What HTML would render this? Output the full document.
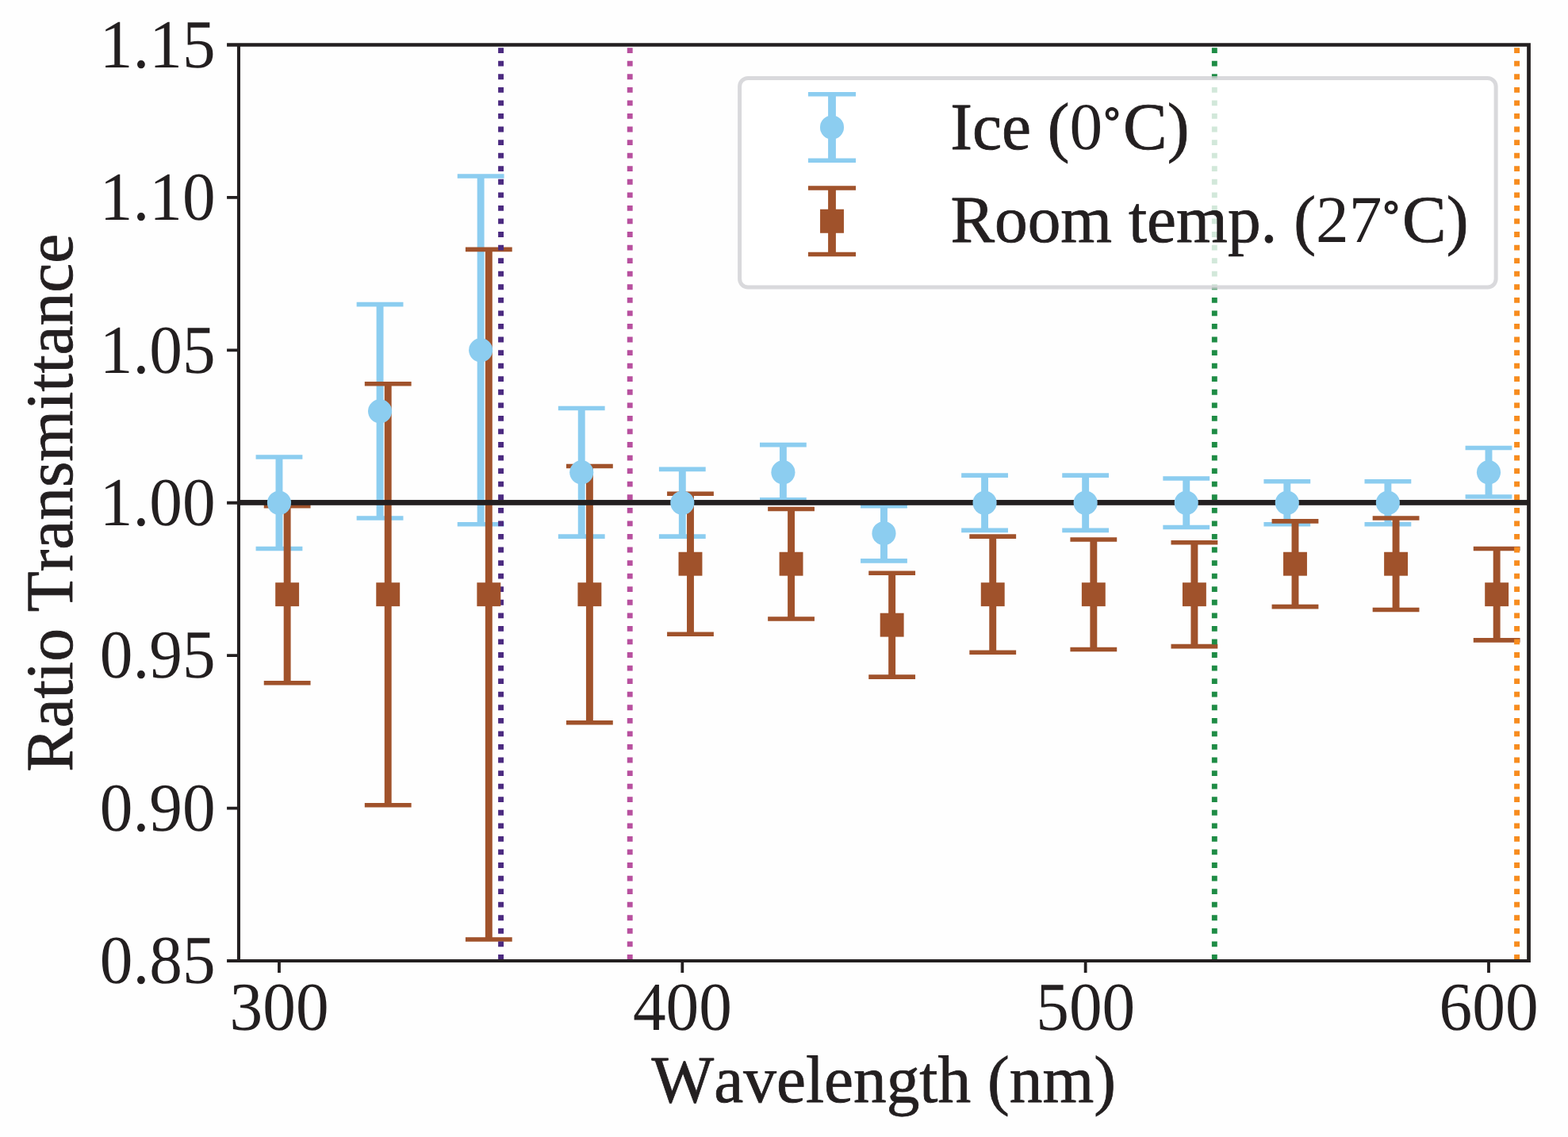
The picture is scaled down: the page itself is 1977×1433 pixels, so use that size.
<!DOCTYPE html>
<html lang="en">
<head>
<meta charset="utf-8">
<title>Ratio Transmittance vs Wavelength</title>
<style>
html,body{margin:0;padding:0;background:#fefefe;}
body{width:1977px;height:1433px;overflow:hidden;}
svg{display:block;}
</style>
</head>
<body>
<svg role="img" aria-label="Ratio Transmittance versus Wavelength (nm)" width="1977" height="1433" viewBox="0 0 1977 1433">
<rect width="1977" height="1433" fill="#fefefe"/>
<path fill="#8ccdf0" d="M347.52 576.03h8.9v115.44h-8.9zM322.57 573.23h58.8v5.6h-58.8zM322.57 688.67h58.8v5.6h-58.8zM474.61 383.63h8.9v269.36h-8.9zM449.66 380.83h58.8v5.6h-58.8zM449.66 650.19h58.8v5.6h-58.8zM601.69 222.01h8.9v438.67h-8.9zM576.74 219.21h58.8v5.6h-58.8zM576.74 657.89h58.8v5.6h-58.8zM728.77 514.46h8.9v161.62h-8.9zM703.83 511.66h58.8v5.6h-58.8zM703.83 673.28h58.8v5.6h-58.8zM855.86 591.42h8.9v84.66h-8.9zM830.91 588.62h58.8v5.6h-58.8zM830.91 673.28h58.8v5.6h-58.8zM982.95 560.64h8.9v69.26h-8.9zM958 557.84h58.8v5.6h-58.8zM958 627.1h58.8v5.6h-58.8zM1110.03 637.6h8.9v69.26h-8.9zM1085.08 634.8h58.8v5.6h-58.8zM1085.08 704.06h58.8v5.6h-58.8zM1237.12 599.12h8.9v69.26h-8.9zM1212.16 596.32h58.8v5.6h-58.8zM1212.16 665.58h58.8v5.6h-58.8zM1364.2 599.12h8.9v69.26h-8.9zM1339.25 596.32h58.8v5.6h-58.8zM1339.25 665.58h58.8v5.6h-58.8zM1491.29 602.97h8.9v61.57h-8.9zM1466.34 600.17h58.8v5.6h-58.8zM1466.34 661.73h58.8v5.6h-58.8zM1618.37 606.81h8.9v53.87h-8.9zM1593.42 604.01h58.8v5.6h-58.8zM1593.42 657.89h58.8v5.6h-58.8zM1745.45 606.81h8.9v53.87h-8.9zM1720.5 604.01h58.8v5.6h-58.8zM1720.5 657.89h58.8v5.6h-58.8zM1872.54 564.49h8.9v61.57h-8.9zM1847.59 561.69h58.8v5.6h-58.8zM1847.59 623.25h58.8v5.6h-58.8z"/>
<path fill="#a0522b" d="M357.69 637.6h8.9v223.18h-8.9zM332.74 634.8h58.8v5.6h-58.8zM332.74 857.98h58.8v5.6h-58.8zM484.77 483.68h8.9v531.02h-8.9zM459.82 480.88h58.8v5.6h-58.8zM459.82 1011.9h58.8v5.6h-58.8zM611.86 314.37h8.9v869.65h-8.9zM586.91 311.57h58.8v5.6h-58.8zM586.91 1181.21h58.8v5.6h-58.8zM738.94 587.57h8.9v323.23h-8.9zM713.99 584.77h58.8v5.6h-58.8zM713.99 908.01h58.8v5.6h-58.8zM866.03 622.21h8.9v177.01h-8.9zM841.08 619.41h58.8v5.6h-58.8zM841.08 796.41h58.8v5.6h-58.8zM993.11 641.45h8.9v138.53h-8.9zM968.16 638.65h58.8v5.6h-58.8zM968.16 777.17h58.8v5.6h-58.8zM1120.2 722.25h8.9v130.83h-8.9zM1095.25 719.45h58.8v5.6h-58.8zM1095.25 850.29h58.8v5.6h-58.8zM1247.28 676.08h8.9v146.22h-8.9zM1222.33 673.28h58.8v5.6h-58.8zM1222.33 819.5h58.8v5.6h-58.8zM1374.37 679.93h8.9v138.53h-8.9zM1349.42 677.13h58.8v5.6h-58.8zM1349.42 815.65h58.8v5.6h-58.8zM1501.45 683.77h8.9v130.83h-8.9zM1476.5 680.97h58.8v5.6h-58.8zM1476.5 811.81h58.8v5.6h-58.8zM1628.54 656.84h8.9v107.74h-8.9zM1603.59 654.04h58.8v5.6h-58.8zM1603.59 761.78h58.8v5.6h-58.8zM1755.62 652.99h8.9v115.44h-8.9zM1730.67 650.19h58.8v5.6h-58.8zM1730.67 765.63h58.8v5.6h-58.8zM1882.71 691.47h8.9v115.44h-8.9zM1857.76 688.67h58.8v5.6h-58.8zM1857.76 804.11h58.8v5.6h-58.8z"/>
<path d="M631.56 1209.85V56.5" stroke="#4b2a80" stroke-width="6.9" stroke-dasharray="6.8 9.7625" fill="none"/>
<path d="M794.23 1209.85V56.5" stroke="#b8509f" stroke-width="6.9" stroke-dasharray="6.8 9.7625" fill="none"/>
<path d="M1531.32 1209.85V56.5" stroke="#1e8c45" stroke-width="6.9" stroke-dasharray="6.8 9.7625" fill="none"/>
<path d="M1912.57 1209.85V56.5" stroke="#f78c1e" stroke-width="6.9" stroke-dasharray="6.8 9.7625" fill="none"/>
<rect x="300.96" y="630.05" width="1626.6" height="6.75" fill="#231f20"/>
<g fill="#8ccdf0">
<circle cx="351.97" cy="633.75" r="15.05"/>
<circle cx="479.06" cy="518.31" r="15.05"/>
<circle cx="606.14" cy="441.35" r="15.05"/>
<circle cx="733.23" cy="595.27" r="15.05"/>
<circle cx="860.31" cy="633.75" r="15.05"/>
<circle cx="987.4" cy="595.27" r="15.05"/>
<circle cx="1114.48" cy="672.23" r="15.05"/>
<circle cx="1241.57" cy="633.75" r="15.05"/>
<circle cx="1368.65" cy="633.75" r="15.05"/>
<circle cx="1495.74" cy="633.75" r="15.05"/>
<circle cx="1622.82" cy="633.75" r="15.05"/>
<circle cx="1749.9" cy="633.75" r="15.05"/>
<circle cx="1876.99" cy="595.27" r="15.05"/>
</g>
<g fill="#a0522b">
<rect x="347.19" y="734.24" width="29.9" height="29.9"/>
<rect x="474.27" y="734.24" width="29.9" height="29.9"/>
<rect x="601.36" y="734.24" width="29.9" height="29.9"/>
<rect x="728.44" y="734.24" width="29.9" height="29.9"/>
<rect x="855.53" y="695.76" width="29.9" height="29.9"/>
<rect x="982.61" y="695.76" width="29.9" height="29.9"/>
<rect x="1109.7" y="772.72" width="29.9" height="29.9"/>
<rect x="1236.78" y="734.24" width="29.9" height="29.9"/>
<rect x="1363.87" y="734.24" width="29.9" height="29.9"/>
<rect x="1490.95" y="734.24" width="29.9" height="29.9"/>
<rect x="1618.04" y="695.76" width="29.9" height="29.9"/>
<rect x="1745.12" y="695.76" width="29.9" height="29.9"/>
<rect x="1872.21" y="734.24" width="29.9" height="29.9"/>
</g>
<path fill="#231f20" d="M298.93 54.2h4.05v1158.7h-4.05zM1925.15 54.2h4.75v1158.7h-4.75zM298.93 54.2h1630.97v4.6h-1630.97zM298.93 1209.05h1630.97v3.85h-1630.97zM350.07 1211h3.8v14.9h-3.8zM858.41 1211h3.8v14.9h-3.8zM1366.75 1211h3.8v14.9h-3.8zM1875.09 1211h3.8v14.9h-3.8zM286.08 1209.05h14.9v3.85h-14.9zM286.08 1016.65h14.9v3.8h-14.9zM286.08 824.25h14.9v3.8h-14.9zM286.08 631.85h14.9v3.8h-14.9zM286.08 439.45h14.9v3.8h-14.9zM286.08 247.05h14.9v3.8h-14.9zM286.08 54.2h14.9v4.6h-14.9z"/>
<rect x="932.6" y="98.5" width="953.5" height="263.5" rx="10.5" ry="10.5" fill="#ffffff" fill-opacity="0.8" stroke="#d0d0d3" stroke-opacity="0.8" stroke-width="5"/>
<path fill="#8ccdf0" d="M1044.1 118.75h9.8v83.5h-9.8zM1018.95 115.95h60.1v5.6h-60.1zM1018.95 199.45h60.1v5.6h-60.1zM1033.95 160.5a15.05 15.05 0 1 1 30.1 0a15.05 15.05 0 1 1 -30.1 0z"/>
<path fill="#a0522b" d="M1044.1 237.05h9.8v83.5h-9.8zM1018.95 234.25h60.1v5.6h-60.1zM1018.95 317.75h60.1v5.6h-60.1zM1034.05 263.85h29.9v29.9h-29.9z"/>
<g fill="#231f20" stroke="#231f20" stroke-width="0.8" stroke-linejoin="round" font-family="'Liberation Serif', 'Times New Roman', Times, serif" font-size="83.33" style="font-kerning:none;text-rendering:geometricPrecision">
<text transform="translate(1198.3 187.9) scale(1 1.012)">Ice (<tspan stroke="none">0</tspan><tspan font-size="49.0" stroke-width="1.9" dx="2.02" dy="-19.14">°</tspan><tspan dx="4.18" dy="19.14">C)</tspan></text>
<text transform="translate(1198.4 305.4) scale(1 1.012)">Room temp. (<tspan stroke="none">27</tspan><tspan font-size="49.0" stroke-width="1.9" dx="2.02" dy="-18.14">°</tspan><tspan dx="4.18" dy="18.14">C)</tspan></text>
<text transform="translate(271.7 1239.25) scale(1 1.04)" text-anchor="end" stroke="none">0.85</text>
<text transform="translate(271.7 1046.85) scale(1 1.04)" text-anchor="end" stroke="none">0.90</text>
<text transform="translate(271.7 854.45) scale(1 1.04)" text-anchor="end" stroke="none">0.95</text>
<text transform="translate(271.7 662.05) scale(1 1.04)" text-anchor="end" stroke="none">1.00</text>
<text transform="translate(271.7 469.65) scale(1 1.04)" text-anchor="end" stroke="none">1.05</text>
<text transform="translate(271.7 277.25) scale(1 1.04)" text-anchor="end" stroke="none">1.10</text>
<text transform="translate(271.7 84.85) scale(1 1.04)" text-anchor="end" stroke="none">1.15</text>
<text transform="translate(352.07 1297.6) scale(1 1.04)" text-anchor="middle" stroke="none">300</text>
<text transform="translate(860.41 1297.6) scale(1 1.04)" text-anchor="middle" stroke="none">400</text>
<text transform="translate(1368.75 1297.6) scale(1 1.04)" text-anchor="middle" stroke="none">500</text>
<text transform="translate(1877.09 1297.6) scale(1 1.04)" text-anchor="middle" stroke="none">600</text>
<text transform="translate(1114.3 1388.6) scale(1 1.012)" text-anchor="middle">Wavelength (nm)</text>
<text transform="translate(91.0 633.75) rotate(-90) scale(1 1.012)" text-anchor="middle">Ratio Transmittance</text>
</g>
</svg>
</body>
</html>
